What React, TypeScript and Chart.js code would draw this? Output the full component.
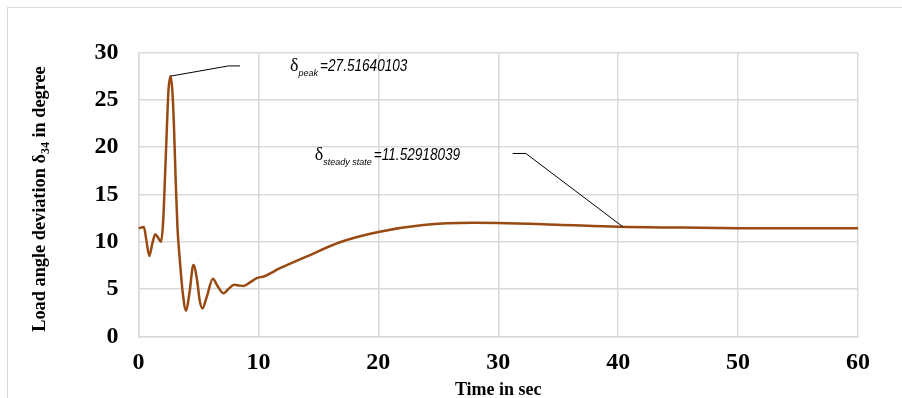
import React, { useEffect, useRef } from "react";
import { Chart, registerables } from "chart.js";

Chart.register(...registerables);

// ---- data ----
const timeSec = [
  0, 0.45, 0.65, 0.9, 1.15, 1.4, 1.65, 1.88, 2.05, 2.2, 2.35, 2.5, 2.67, 2.82, 2.95, 3.1, 3.25,
  3.45, 3.7, 3.97, 4.25, 4.58, 4.9, 5.1, 5.33, 5.7, 6.2, 6.6, 7.08, 7.5, 7.97, 8.4, 8.75, 9.3,
  9.86, 10.5, 11.8, 14.0, 16.8, 20, 23.75, 27.9, 30, 34.9, 40, 45, 50, 55, 60,
];
const loadAngleDeg = [
  11.42, 11.55, 10.2, 8.5, 9.8, 10.8, 10.4, 10.0, 12.0, 16.5, 21.5, 26.0, 27.52, 26.0, 22.5, 16.5, 11.5,
  8.0, 4.5, 2.7, 4.6, 7.55, 5.8, 3.8, 2.95, 4.2, 6.1, 5.3, 4.56, 5.0, 5.44, 5.38, 5.33, 5.7,
  6.15, 6.35, 7.2, 8.43, 9.95, 11.03, 11.77, 12.0, 11.98, 11.8, 11.58, 11.5, 11.44, 11.42, 11.42,
];
const xTickStep = 10;
const yTickStep = 5;
const xRange = [0, 60];
const yRange = [0, 30];

const xTitle = "Time in sec";
const yTitleParts = ["Load angle deviation δ", "34", " in degree"];

// annotations: [label sub, label value], leader points in data units
const peakSub = "peak";
const peakValue = "=27.51640103";
const peakLeader = [
  [2.67, 27.52],
  [7.5, 28.6],
  [8.47, 28.6],
];
const peakTextAt = [12.64, 28.04];

const steadySub = "steady state";
const steadyValue = "=11.52918039";
const steadyLeader = [
  [40.4, 11.58],
  [32.3, 19.34],
  [31.2, 19.34],
];
const steadyTextAt = [14.7, 18.64];

const LINE_COLOR = "#994a12";
const GRID_COLOR = "#d9d9d9";
const SERIF = '"Liberation Serif", "Times New Roman", serif';
const SANS = '"Liberation Sans", Arial, sans-serif';

const annotPlugin = {
  id: "annot",
  afterDraw(chart: any) {
    const ctx = chart.ctx as CanvasRenderingContext2D;
    const xs = chart.scales.x;
    const ys = chart.scales.y;
    const ca = chart.chartArea;
    const px = (v: number) => xs.getPixelForValue(v);
    const py = (v: number) => ys.getPixelForValue(v);

    ctx.save();
    // leaders
    ctx.strokeStyle = "#000";
    ctx.lineWidth = 1;
    for (const pts of [peakLeader, steadyLeader]) {
      ctx.beginPath();
      pts.forEach((p, i) => {
        const X = px(p[0]);
        const Y = py(p[1]);
        if (i === 0) ctx.moveTo(X, Y);
        else ctx.lineTo(X, Y);
      });
      ctx.stroke();
    }

    const drawLabel = (at: number[], sub: string, val: string) => {
      let X = px(at[0]);
      const Y = py(at[1]);
      ctx.fillStyle = "#000";
      ctx.textBaseline = "alphabetic";
      ctx.textAlign = "left";
      ctx.font = `18px ${SERIF}`;
      ctx.fillText("δ", X, Y);
      X += ctx.measureText("δ").width;
      ctx.font = `italic 9px ${SANS}`;
      ctx.fillText(sub, X, Y + 5);
      X += ctx.measureText(sub).width + 2;
      ctx.save();
      ctx.translate(X, Y);
      ctx.scale(0.85, 1);
      ctx.font = `italic 16px ${SANS}`;
      ctx.fillText(val, 0, 0);
      ctx.restore();
    };
    drawLabel(peakTextAt, peakSub, peakValue);
    drawLabel(steadyTextAt, steadySub, steadyValue);

    // x title
    ctx.fillStyle = "#000";
    ctx.font = `bold 18px ${SERIF}`;
    ctx.textAlign = "center";
    ctx.textBaseline = "middle";
    ctx.fillText(xTitle, (ca.left + ca.right) / 2, ca.bottom + 54);

    // y title (rotated, with subscript)
    ctx.save();
    ctx.translate(ca.left - 98, (ca.top + ca.bottom) / 2 + 4.5);
    ctx.rotate(-Math.PI / 2);
    ctx.textAlign = "left";
    ctx.textBaseline = "middle";
    const mainFont = `bold 18.3px ${SERIF}`;
    const subFont = `bold 12px ${SERIF}`;
    ctx.font = mainFont;
    const w0 = ctx.measureText(yTitleParts[0]).width;
    const w2 = ctx.measureText(yTitleParts[2]).width;
    ctx.font = subFont;
    const w1 = ctx.measureText(yTitleParts[1]).width;
    let X = -(w0 + w1 + w2) / 2;
    ctx.font = mainFont;
    ctx.fillText(yTitleParts[0], X, 0);
    X += w0;
    ctx.font = subFont;
    ctx.fillText(yTitleParts[1], X, 5);
    X += w1;
    ctx.font = mainFont;
    ctx.fillText(yTitleParts[2], X, 0);
    ctx.restore();

    ctx.restore();
  },
};

export default function App() {
  const ref = useRef<HTMLCanvasElement>(null);

  useEffect(() => {
    if (!ref.current) return;
    const chart = new Chart(ref.current, {
      type: "line",
      data: {
        datasets: [
          {
            data: timeSec.map((t, i) => ({ x: t, y: loadAngleDeg[i] })),
            borderColor: LINE_COLOR,
            borderWidth: 2.5,
            pointRadius: 0,
            cubicInterpolationMode: "monotone",
            fill: false,
          },
        ],
      },
      options: {
        animation: false,
        responsive: false,
        devicePixelRatio: 1,
        layout: { padding: { left: 0, top: 44.7, right: 43, bottom: 20 } },
        plugins: { legend: { display: false }, tooltip: { enabled: false } },
        scales: {
          x: {
            type: "linear",
            min: xRange[0],
            max: xRange[1],
            ticks: {
              stepSize: xTickStep,
              color: "#000",
              font: { family: SERIF, size: 24, weight: "bold" },
              padding: 12,
              maxRotation: 0,
            },
            grid: { color: GRID_COLOR, lineWidth: 1.5, drawTicks: false },
            border: { display: true, color: GRID_COLOR, width: 1.5 },
            afterFit: (s: any) => {
              s.height = 41.7;
            },
          },
          y: {
            min: yRange[0],
            max: yRange[1],
            ticks: {
              stepSize: yTickStep,
              color: "#000",
              font: { family: SERIF, size: 24, weight: "bold" },
              padding: 20,
            },
            grid: { color: GRID_COLOR, lineWidth: 1.5, drawTicks: false },
            border: { display: true, color: GRID_COLOR, width: 1.5 },
            afterFit: (s: any) => {
              s.width = 130.5;
            },
          },
        },
      },
      plugins: [annotPlugin],
    } as any);
    return () => chart.destroy();
  }, []);

  return (
    <div
      style={{
        position: "absolute",
        left: 7,
        top: 7,
        width: 900,
        height: 400,
        border: `1px solid ${GRID_COLOR}`,
        boxSizing: "border-box",
        background: "#fff",
      }}
    >
      <canvas
        ref={ref}
        width={893}
        height={390}
        style={{ position: "absolute", left: 0, top: 0, width: 893, height: 390 }}
      />
    </div>
  );
}
